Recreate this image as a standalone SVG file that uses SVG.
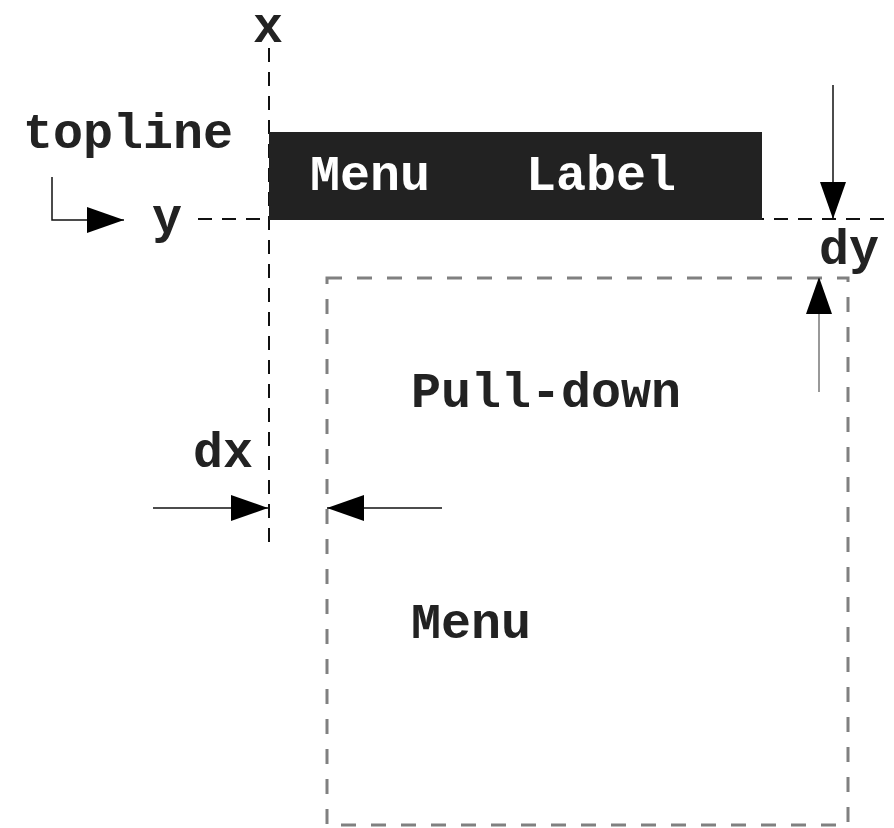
<svg xmlns="http://www.w3.org/2000/svg" width="894" height="828" viewBox="0 0 894 828">
<style>
.t{font-family:"Liberation Mono","Courier New",monospace;font-weight:bold;font-size:50px;fill:#222}
.w{fill:#fff}
.guide{stroke:#111;stroke-width:2;stroke-dasharray:14 10;fill:none}
.box{stroke:#808080;stroke-width:3;stroke-dasharray:15 15;fill:none}
.ln{stroke:#111;stroke-width:1.5;fill:none}
</style>
<defs>
<marker id="ah" markerUnits="userSpaceOnUse" markerWidth="38" markerHeight="26" refX="37" refY="13" orient="auto">
<path d="M0,0 L37,13 L0,26 Z" fill="#000"/>
</marker>
</defs>
<rect width="894" height="828" fill="#fff"/>
<g id="guides">
<line class="guide" x1="269" y1="48" x2="269" y2="552"/>
<line class="guide" x1="198" y1="219" x2="894" y2="219"/>
</g>
<g id="menu-label">
<rect x="269" y="132" width="493" height="88" fill="#222"/>
<text class="t w" x="310" y="190">Menu</text>
<text class="t w" x="526" y="190">Label</text>
</g>
<g id="pulldown-menu">
<rect class="box" x="327" y="278" width="521" height="547"/>
<text class="t" x="411" y="407">Pull-down</text>
<text class="t" x="411" y="638">Menu</text>
</g>
<g id="labels">
<text class="t" x="253" y="42">x</text>
<text class="t" x="23" y="148">topline</text>
<text class="t" x="152" y="233">y</text>
<text class="t" x="193" y="467">dx</text>
<text class="t" x="819" y="264">dy</text>
</g>
<g id="connectors">
<path class="ln" d="M52,177 L52,220 L124,220" marker-end="url(#ah)"/>
<line class="ln" x1="833" y1="85" x2="833" y2="219" marker-end="url(#ah)"/>
<line x1="819" y1="392" x2="819" y2="277" stroke="#999" stroke-width="2" marker-end="url(#ah)"/>
<line class="ln" x1="153" y1="508" x2="268" y2="508" marker-end="url(#ah)"/>
<line class="ln" x1="442" y1="508" x2="327" y2="508" marker-end="url(#ah)"/>
</g>
</svg>
